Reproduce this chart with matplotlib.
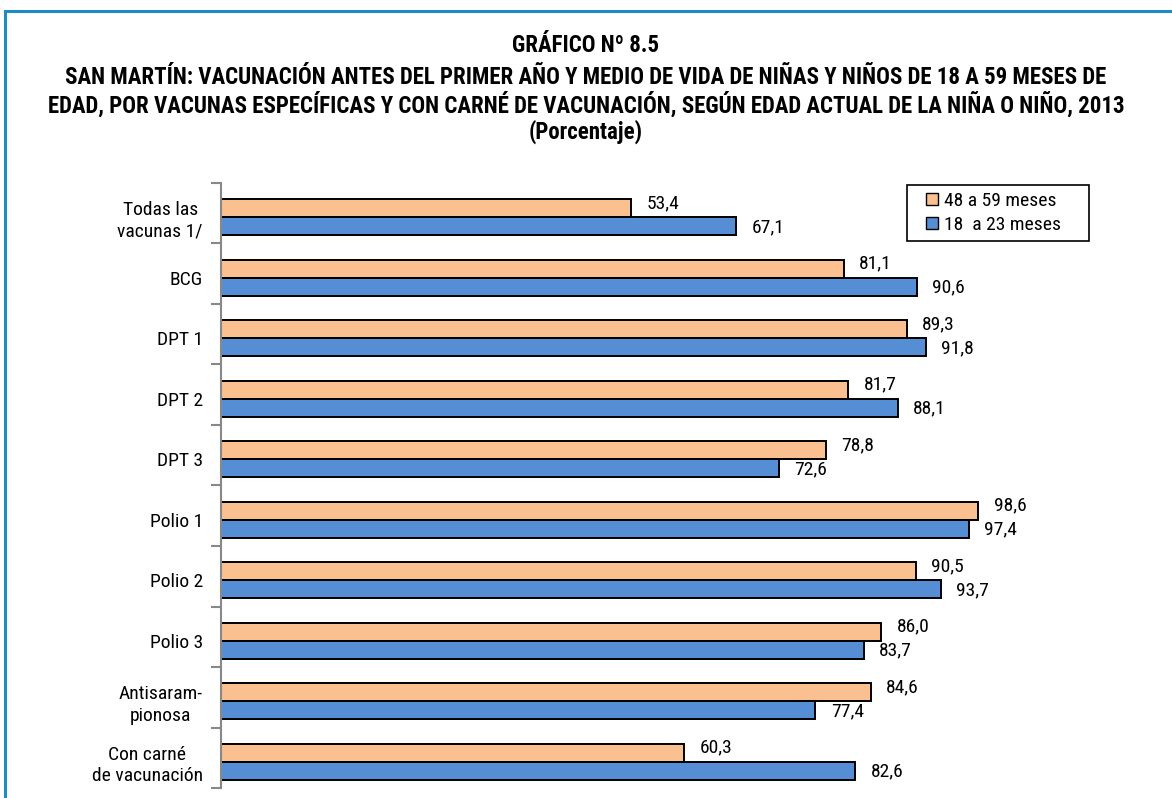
import matplotlib
matplotlib.use("Agg")
import matplotlib.pyplot as plt
from matplotlib.patches import Rectangle
from matplotlib.lines import Line2D
from matplotlib import font_manager

categories = ["Todas las\nvacunas 1/", "BCG", "DPT 1", "DPT 2", "DPT 3",
              "Polio 1", "Polio 2", "Polio 3", "Antisaram-\npionosa",
              "Con carné\nde vacunación"]
serie_48_59 = [53.4, 81.1, 89.3, 81.7, 78.8, 98.6, 90.5, 86.0, 84.6, 60.3]
serie_18_23 = [67.1, 90.6, 91.8, 88.1, 72.6, 97.4, 93.7, 83.7, 77.4, 82.6]
labels = ["48 a 59 meses", "18  a 23 meses"]

names = {f.name for f in font_manager.fontManager.ttflist}
fam = "Liberation Sans"
for cand in ["Roboto Condensed", "Archivo Narrow", "Liberation Sans Narrow"]:
    if cand in names:
        fam = cand
        break
plt.rcParams['font.family'] = [fam, 'DejaVu Sans']

W, H = 1172, 798
fig = plt.figure(figsize=(W/100, H/100), dpi=100)

# blue frame
fig.add_artist(Rectangle((4.5/W, -0.01), 1.2, (H-11)/H + 0.01, transform=fig.transFigure,
                         fill=False, edgecolor="#1E8BC3", linewidth=2.2))

x0, x1 = 221, 1120
y0, y1 = 183, 788
ax = fig.add_axes([x0/W, 1 - y1/H, (x1-x0)/W, (y1-y0)/H])
scale = 7.68
ax.set_xlim(0, (x1-x0)/scale)
n = len(categories)
ax.set_ylim(n, 0)

bh = 0.30
shift = 0.065
orange = "#FAC090"
blue = "#558ED5"
fs = 14
for i in range(n):
    c = i + 0.5 + shift
    yo = c - bh/2
    yb = c + bh/2
    ax.barh(yo, serie_48_59[i], height=bh, color=orange, edgecolor="black", linewidth=1.4)
    ax.barh(yb, serie_18_23[i], height=bh, color=blue, edgecolor="black", linewidth=1.4)
    ax.text(serie_48_59[i] + 2.0, yo - 0.08, f"{serie_48_59[i]:.1f}".replace(".", ","),
            va="center", ha="left", fontsize=fs)
    ax.text(serie_18_23[i] + 2.0, yb + 0.01, f"{serie_18_23[i]:.1f}".replace(".", ","),
            va="center", ha="left", fontsize=fs)

for s in ["top", "right", "bottom"]:
    ax.spines[s].set_visible(False)
ax.spines["left"].set_color("#888888")
ax.spines["left"].set_linewidth(1.5)
ax.set_xticks([])
ax.set_yticks(range(n + 1))
ax.set_yticklabels([])
ax.tick_params(axis="y", length=7, color="#888888", width=1.5)
ax.set_yticks([i + 0.5 + shift for i in range(n)], minor=True)
ax.set_yticklabels(categories, minor=True, fontsize=fs, linespacing=1.25)
for lab in ax.get_yticklabels(minor=True):
    lab.set_multialignment("center")
ax.tick_params(axis="y", which="minor", length=0, pad=13)

# legend (frame drawn separately to match reference padding)
fig.add_artist(Rectangle((907/W, 1 - 241/H), (1089-907)/W, (241-185)/H, transform=fig.transFigure,
                         fill=True, facecolor="white", edgecolor="black", linewidth=1.2, zorder=5))
handles = [Line2D([], [], marker="s", linestyle="", markersize=9, markerfacecolor=orange, markeredgecolor="black"),
           Line2D([], [], marker="s", linestyle="", markersize=9, markerfacecolor=blue, markeredgecolor="black")]
leg = fig.legend(handles, labels, loc="center left", bbox_to_anchor=(924/W, 1 - 213/H),
                 fontsize=fs, frameon=False,
                 handlelength=0.8, handletextpad=0.25, borderpad=0.0, labelspacing=0.3,
                 borderaxespad=0)
leg.set_zorder(6)

tfs = 16.5
fig.text(0.5, 1 - 46/H, "GRÁFICO Nº 8.5", ha="center", va="center", fontsize=tfs, fontweight="bold")
fig.text(0.5, 1 - 92/H,
         "SAN MARTÍN: VACUNACIÓN ANTES DEL PRIMER AÑO Y MEDIO DE VIDA DE NIÑAS Y NIÑOS DE 18 A 59 MESES DE\n"
         "EDAD, POR VACUNAS ESPECÍFICAS Y CON CARNÉ DE VACUNACIÓN, SEGÚN EDAD ACTUAL DE LA NIÑA O NIÑO, 2013",
         ha="center", va="center", fontsize=tfs, fontweight="bold", linespacing=1.12)
fig.text(0.5, 1 - 132/H, "(Porcentaje)", ha="center", va="center", fontsize=tfs, fontweight="bold")

fig.savefig("out.png", dpi=100)
